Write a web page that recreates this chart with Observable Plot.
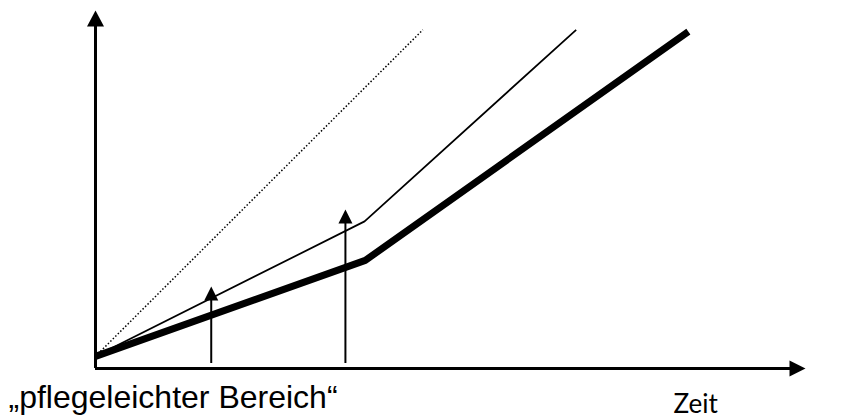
<!DOCTYPE html>
<html>
<head>
<meta charset="utf-8">
<script src="https://cdn.jsdelivr.net/npm/d3@7"></script>
<script src="https://cdn.jsdelivr.net/npm/@observablehq/plot@0.6"></script>
<style>
  html, body { margin: 0; padding: 0; background: #fff; }
</style>
</head>
<body>
<div id="chart"></div>
<script>
// Data (abstract units: time 0–100, value 0–100)
const dottedT = [0, 46.1];
const dottedV = [3.4, 94.6];
const thinT = [0, 37.9, 67.7];
const thinV = [3.4, 41.1, 94.6];
const thickT = [0, 38.0, 83.5];
const thickV = [3.4, 30.2, 94.1];
const markerT = [16.3, 35.2];
const markerTop = [22.9, 44.4];
const markerBase = [1.4, 1.4];
const axisEnd = [100];
const labelLeft = ["\u201Epflegeleichter Bereich\u201C"];
const labelTime = ["Zeit"];

const toPts = (T, V) => T.map((t, i) => ({t, v: V[i]}));
const dotted = toPts(dottedT, dottedV);
const thin = toPts(thinT, thinV);
const thick = toPts(thickT, thickV);
const markers = markerT.map((t, i) => ({t, top: markerTop[i], base: markerBase[i]}));

// Custom filled triangle symbols with the tip at the anchor point
const triUp = (w, l) => ({draw(ctx) { ctx.moveTo(0, 0); ctx.lineTo(-w / 2, l); ctx.lineTo(w / 2, l); ctx.closePath(); }});
const triRight = (w, l) => ({draw(ctx) { ctx.moveTo(0, 0); ctx.lineTo(-l, -w / 2); ctx.lineTo(-l, w / 2); ctx.closePath(); }});

const chart = Plot.plot({
  width: 846,
  height: 419,
  marginLeft: 95,
  marginRight: 41,
  marginTop: 10,
  marginBottom: 51,
  x: {domain: [0, 100], axis: null},
  y: {domain: [0, 100], axis: null},
  style: {background: "white"},
  marks: [
    // axes
    Plot.ruleX([0], {y1: 0, y2: 97, stroke: "black", strokeWidth: 3}),
    Plot.ruleY([0], {x1: 0, x2: 98, stroke: "black", strokeWidth: 3}),
    Plot.dot(axisEnd, {x: 0, y: d => d, symbol: triUp(17, 16), fill: "black", stroke: null}),
    Plot.dot(axisEnd, {x: d => d, y: 0, symbol: triRight(16, 16), fill: "black", stroke: null}),
    // series
    Plot.line(dotted, {x: "t", y: "v", stroke: "black", strokeWidth: 1.5, strokeDasharray: "1.5 2", strokeLinecap: "butt"}),
    Plot.line(thin, {x: "t", y: "v", stroke: "black", strokeWidth: 1.75, strokeLinecap: "butt", strokeLinejoin: "miter"}),
    Plot.line(thick, {x: "t", y: "v", stroke: "black", strokeWidth: 7, strokeLinecap: "butt", strokeLinejoin: "bevel"}),
    // vertical arrows
    Plot.ruleX(markers, {x: "t", y1: "base", y2: d => d.top - 3, stroke: "black", strokeWidth: 2}),
    Plot.dot(markers, {x: "t", y: "top", symbol: triUp(14, 14), fill: "black", stroke: null}),
    // labels
    Plot.text(labelLeft, {text: d => d, frameAnchor: "bottom-left", dx: -87, dy: 39, textAnchor: "start", lineAnchor: "bottom", fontSize: 32, fontFamily: "Liberation Sans, Arial, sans-serif", fill: "black"}),
    Plot.text(labelTime, {text: d => d, frameAnchor: "bottom-left", dx: 578, dy: 44, textAnchor: "start", lineAnchor: "bottom", fontSize: 26, fontFamily: "Lato, sans-serif", fill: "black"})
  ]
});
document.getElementById("chart").appendChild(chart);
</script>
</body>
</html>
